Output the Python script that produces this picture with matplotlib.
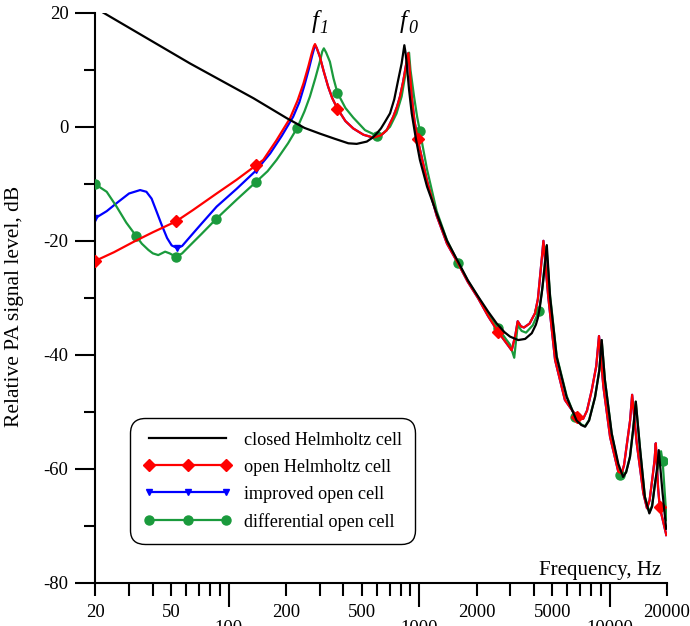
import matplotlib
matplotlib.use("Agg")
import matplotlib.pyplot as plt
from matplotlib.lines import Line2D
from matplotlib.transforms import offset_copy
from matplotlib.ticker import FixedLocator, FixedFormatter, FuncFormatter, MultipleLocator

plt.rcParams['font.family'] = ['Liberation Serif', 'DejaVu Serif']
plt.rcParams['axes.unicode_minus'] = False

# closed Helmholtz cell
closed_f = [22.0, 62.7, 135, 202, 250, 301, 360, 425, 470, 531, 570, 598, 630, 660, 703, 740, 776, 809,
            825, 836, 848, 860, 885, 914, 960, 1009, 1100, 1236, 1400, 1603, 1800, 2042, 2300, 2553, 2800,
            3000, 3311, 3600, 3900, 4100, 4200, 4300, 4400, 4560, 4677, 4864, 5272, 5945, 6700, 7100,
            7430, 7800, 8380, 8825, 9080, 9440, 10250, 11100, 11760, 12200, 12780, 13270, 13710, 14400,
            15300, 16150, 16700, 17300, 17800, 18100, 18960, 19800]
closed_db = [20.0, 11.1, 5.0, 1.5, -0.2, -1.2, -2.1, -2.9, -3.0, -2.6, -1.9, -1.2, -0.3, 0.8, 2.35, 4.8, 8.2, 11.1,
             13.0, 14.3, 13.0, 11.1, 6.5, 2.35, -2.0, -5.8, -10.5, -15.2, -20.0, -23.7, -26.9, -29.8, -32.4, -34.5, -36.0,
             -36.8, -37.4, -37.2, -36.2, -34.7, -33.5, -31.6, -29.2, -24.5, -20.75, -29.8, -40.4, -47.4, -51.5, -52.3,
             -52.6, -51.5, -47.4, -42.7, -37.4, -44.4, -53.8, -59.1, -61.4, -60.6, -57.9, -53.2, -48.2, -56.1,
             -64.9, -67.8, -66.6, -62.6, -59.5, -56.7, -64.3, -70.5]

# open Helmholtz cell
open_f = [20, 25, 31.6, 40, 52.9, 65, 86.5, 110, 140, 152, 178, 210, 230, 247, 262, 273, 280, 284, 290, 301,
          315, 333, 350, 372, 410, 451, 510, 574, 630, 676, 731, 765, 793, 825, 855, 877, 890, 914, 945, 982,
          1100, 1236, 1400, 1603, 1800, 2042, 2300, 2600, 2850, 3060, 3200, 3290, 3420, 3550, 3800, 4055,
          4200, 4310, 4420, 4490, 4760, 5170, 5820, 6440, 7000, 7260, 7600, 8050, 8500, 8790, 9270, 10050,
          11100, 11560, 11900, 12330, 12800, 13120, 13870, 15030, 15700, 16200, 16790, 17200, 17460,
          17940, 18320, 19830]
open_db = [-23.5, -22.0, -20.2, -18.5, -16.6, -14.6, -11.7, -9.3, -6.7, -5.8, -2.4, 1.5, 4.6, 7.6, 10.6, 12.9, 14.1,
           14.5, 13.8, 12.3, 9.8, 7.0, 5.0, 3.2, 1.0, -0.3, -1.4, -1.9, -1.5, -0.6, 1.75, 3.5, 5.3, 8.0, 11.0, 12.9,
           10.5, 5.3, 1.0, -2.2, -9.5, -15.6, -20.5, -24.0, -27.2, -30.1, -33.2, -36.0, -37.8, -39.2, -36.5, -34.1,
           -35.0, -35.2, -34.5, -32.7, -30.2, -26.3, -22.5, -20.0, -29.8, -40.9, -47.9, -50.0, -51.2, -51.2, -49.8,
           -46.2, -42.0, -36.7, -45.6, -54.4, -60.5, -60.8, -59.3, -55.5, -51.5, -47.0, -55.5, -64.3, -66.9, -65.5,
           -61.4, -58.5, -55.5, -63.2, -66.7, -71.6]
open_mk_f = [20, 52.9, 140, 372, 982, 2600, 6700, 18320]
open_mk_db = [-23.5, -16.6, -6.7, 3.2, -2.2, -36.0, -50.9, -66.7]

# improved open cell
impr_f = [20, 22.9, 25.8, 30, 34.3, 37, 39.4, 42, 44.5, 47.5, 50.2, 53.8, 57, 62.7, 72, 86.5, 110, 140, 165,
          190, 218, 235, 250, 264, 275, 284, 290, 301, 315, 333, 350, 372, 410, 451, 510, 574, 630, 676, 731,
          765, 793, 825, 855, 877, 890, 914, 945, 982, 1100, 1236, 1400, 1603, 1800, 2042, 2300, 2600, 2850,
          3060, 3200, 3290, 3420, 3550, 3800, 4055, 4200, 4310, 4420, 4490, 4760, 5170, 5820, 6440, 7000,
          7260, 7600, 8050, 8500, 8790, 9270, 10050, 11100, 11560, 11900, 12330, 12800, 13120, 13870, 15030,
          15700, 16200, 16790, 17200, 17460, 17940, 18320, 19830]
impr_db = [-16.0, -14.8, -13.4, -11.7, -11.1, -11.4, -12.6, -15.0, -17.2, -19.5, -20.8, -21.3, -20.9, -19.3, -17.0,
           -14.0, -10.9, -7.6, -4.7, -1.6, 1.75, 4.3, 7.3, 10.2, 12.6, 14.3, 13.8, 12.3, 9.8, 7.0, 5.0, 3.2, 1.0, -0.3,
           -1.4, -1.9, -1.5, -0.6, 1.75, 3.5, 5.3, 8.0, 11.0, 12.9, 10.5, 5.3, 1.0, -2.2, -9.5, -15.6, -20.5, -24.0,
           -27.2, -30.1, -33.2, -36.0, -37.8, -39.2, -36.5, -34.1, -35.0, -35.2, -34.5, -32.7, -30.2, -26.3, -22.5,
           -20.0, -29.8, -40.9, -47.9, -50.0, -51.2, -51.2, -49.8, -46.2, -42.0, -36.7, -45.6, -54.4, -60.5, -60.8,
           -59.3, -55.5, -51.5, -47.0, -55.5, -64.3, -66.9, -65.5, -61.4, -58.5, -55.5, -63.2, -66.7, -71.6]
impr_mk_f = [20, 53.8, 140, 372, 982, 2600, 6700, 18320]
impr_mk_db = [-16.0, -21.3, -7.6, 3.2, -2.2, -36.0, -50.9, -66.7]

# differential open cell
diff_f = [20, 22.9, 25.8, 29, 32.6, 35, 37.9, 40, 42.7, 44.5, 46.4, 49, 52.9, 57, 62.7, 72, 85.8, 110, 140,
          160, 178.6, 205, 229, 250, 267, 285, 301, 310, 316, 325, 340, 355, 372, 410, 451, 520, 603, 650,
          703, 760, 809, 850, 875, 885, 900, 940, 975, 1009, 1100, 1236, 1400, 1603, 1800, 2042, 2300, 2600,
          2850, 3000, 3155, 3290, 3450, 3640, 3950, 4255, 4450, 4650, 4864, 5272, 5945, 6580, 7100, 7430,
          7800, 8380, 8825, 9080, 9440, 10250, 11100, 11330, 11760, 12200, 12780, 13270, 13710, 14400,
          15300, 16150, 16700, 17300, 18000, 18600, 18960, 19900]
diff_db = [-10.1, -11.4, -14.0, -16.8, -19.1, -20.5, -21.6, -22.2, -22.5, -22.2, -21.9, -22.2, -22.8, -22.2, -20.8,
           -18.8, -16.2, -12.8, -9.6, -7.8, -5.8, -2.9, -0.2, 2.7, 5.3, 8.5, 11.4, 13.2, 13.75, 13.0, 11.4, 8.5, 6.0,
           3.3, 1.6, -0.6, -1.6, -1.1, 0.0, 2.3, 5.3, 9.5, 12.4, 13.0, 10.0, 5.3, 1.8, -0.8, -7.5, -14.8, -19.9,
           -23.9, -27.0, -29.9, -32.8, -35.3, -37.2, -38.2, -40.5, -34.8, -35.8, -36.1, -34.8, -32.3, -28.0, -21.0,
           -29.5, -40.2, -47.2, -50.9, -52.2, -52.5, -51.4, -47.4, -42.7, -37.4, -44.4, -53.8, -59.5, -61.1, -61.3,
           -60.5, -57.9, -53.2, -48.2, -56.1, -64.9, -67.6, -66.4, -62.4, -59.5, -56.9, -58.6, -69.0]
diff_mk_f = [20, 32.6, 52.9, 85.8, 140, 229, 372, 603, 1009, 1603, 2600, 4255, 6580, 11330, 18960]
diff_mk_db = [-10.1, -19.1, -22.8, -16.2, -9.6, -0.2, 6.0, -1.6, -0.8, -23.9, -35.3, -32.3, -50.9, -61.1, -58.6]

RED = '#ff0000'
BLUE = '#0000ff'
GREEN = '#1a9a3c'

fig = plt.figure(figsize=(6.9, 6.26), dpi=100)
ax = fig.add_axes([0.1384, 0.0687, 0.8283, 0.911])

lw = 1.6
ax.plot(impr_f, impr_db, color=BLUE, lw=lw, zorder=2)
ax.plot(impr_mk_f, impr_mk_db, 'v', color=BLUE, ms=5, zorder=2)
ax.plot(diff_f, diff_db, color=GREEN, lw=lw, zorder=3)
ax.plot(diff_mk_f, diff_mk_db, 'o', color=GREEN, ms=6.5, zorder=3)
ax.plot(open_f, open_db, color=RED, lw=lw, zorder=4)
ax.plot(open_mk_f, open_mk_db, 'D', color=RED, ms=6, zorder=4)
ax.plot(closed_f, closed_db, color='black', lw=lw, zorder=5)

ax.set_xscale('log')
ax.set_xlim(20, 20000)
ax.set_ylim(-80, 20)

for s in ['top', 'right']:
    ax.spines[s].set_visible(False)
for s in ['left', 'bottom']:
    ax.spines[s].set_linewidth(1.5)

major_x = [100, 1000, 10000]
minor_x = [20, 30, 40, 50, 60, 70, 80, 90, 200, 300, 400, 500, 600, 700, 800, 900,
           2000, 3000, 4000, 5000, 6000, 7000, 8000, 9000, 20000]
minor_lab = {20: '20', 50: '50', 200: '200', 500: '500', 2000: '2000', 5000: '5000', 20000: '20000'}
ax.xaxis.set_major_locator(FixedLocator(major_x))
ax.xaxis.set_major_formatter(FixedFormatter(['100', '1000', '10000']))
ax.xaxis.set_minor_locator(FixedLocator(minor_x))
ax.xaxis.set_minor_formatter(FuncFormatter(lambda v, p: minor_lab.get(int(round(v)), '')))
ax.tick_params(axis='x', which='major', length=17, width=1.5, pad=10, labelsize=13.5)
ax.tick_params(axis='x', which='minor', length=9.4, width=1.5, pad=6, labelsize=13.5)

ax.yaxis.set_major_locator(MultipleLocator(20))
ax.yaxis.set_minor_locator(MultipleLocator(10))
ax.tick_params(axis='y', which='major', length=14.4, width=1.5, pad=5, labelsize=13.5)
ax.tick_params(axis='y', which='minor', length=8, width=1.5)

ax.text(0.9895, 0.022, 'Frequency, Hz', transform=ax.transAxes, ha='right', va='center', fontsize=15)
fig.text(15 / 690, 1 - 306 / 626, 'Relative PA signal level, dB', rotation=90,
         ha='center', va='center', fontsize=15.5)

# resonance labels f1, f0 (italic, italic subscript)
for xf, sub in [(272, '1'), (795, '0')]:
    ax.text(xf, 18.5, 'f', style='italic', ha='left', va='center', fontsize=18)
    ax.text(xf, 18.5, sub, style='italic', ha='left', va='center', fontsize=13,
            transform=offset_copy(ax.transData, fig=fig, x=5.5, y=-5, units='points'))

handles = [
    Line2D([], [], color='black', lw=lw),
    Line2D([], [], color=RED, lw=lw, marker='D', ms=6),
    Line2D([], [], color=BLUE, lw=lw, marker='v', ms=5),
    Line2D([], [], color=GREEN, lw=lw, marker='o', ms=6.5),
]
labels = ['closed Helmholtz cell', 'open Helmholtz cell', 'improved open cell', 'differential open cell']
leg = ax.legend(handles, labels, loc='upper left', bbox_to_anchor=(0.0604, 0.289), borderaxespad=0,
                numpoints=3, fontsize=13.1, handlelength=4.85, handletextpad=0.65, labelspacing=0.55,
                fancybox=True, frameon=True, borderpad=0.75)
frame = leg.get_frame()
frame.set_edgecolor('black')
frame.set_linewidth(1.0)
frame.set_alpha(1)
frame.set_boxstyle('round', pad=0, rounding_size=0.8)

fig.savefig('out.png', dpi=100)
